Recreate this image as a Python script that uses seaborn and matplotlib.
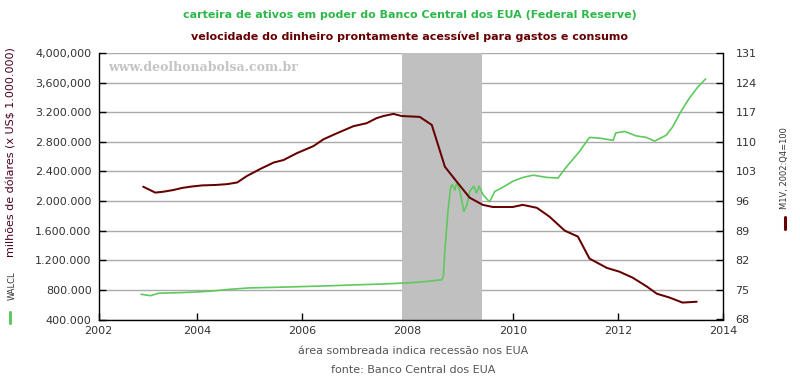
import matplotlib
matplotlib.use("Agg")
import matplotlib.pyplot as plt
from matplotlib.lines import Line2D
import seaborn as sns
import pandas as pd

# ---------------- data ----------------
walcl_years = [2002.93, 2003.11, 2003.26, 2003.68, 2004.00, 2004.30, 2004.62, 2004.97,
               2005.50, 2006.00, 2006.50, 2007.00, 2007.47, 2007.89, 2008.23, 2008.65,
               2008.68, 2008.71, 2008.77, 2008.82, 2008.85, 2008.90, 2008.94, 2008.99,
               2009.07, 2009.13, 2009.18, 2009.26, 2009.31, 2009.36, 2009.44, 2009.56,
               2009.66, 2009.82, 2010.01, 2010.20, 2010.39, 2010.64, 2010.86, 2011.02,
               2011.27, 2011.46, 2011.65, 2011.91, 2011.96, 2012.13, 2012.35, 2012.54,
               2012.70, 2012.92, 2013.04, 2013.20, 2013.36, 2013.52, 2013.67]
walcl_values = [741000, 722000, 755000, 763000, 772000, 786000, 808000, 826000,
                835000, 845000, 855000, 868000, 878000, 891000, 905000, 936000,
                980000, 1340000, 1880000, 2190000, 2220000, 2150000, 2260000, 2150000,
                1860000, 1950000, 2130000, 2200000, 2110000, 2200000, 2080000, 1990000,
                2130000, 2190000, 2270000, 2320000, 2350000, 2320000, 2310000, 2460000,
                2670000, 2860000, 2850000, 2820000, 2920000, 2940000, 2880000, 2860000,
                2810000, 2890000, 3000000, 3210000, 3390000, 3540000, 3650000]

m1v_years = [2002.97, 2003.20, 2003.35, 2003.54, 2003.71, 2003.87, 2004.09, 2004.34,
             2004.57, 2004.76, 2004.94, 2005.20, 2005.45, 2005.64, 2005.89, 2006.21,
             2006.40, 2006.65, 2006.97, 2007.22, 2007.41, 2007.54, 2007.73, 2007.89,
             2008.23, 2008.46, 2008.71, 2008.94, 2009.18, 2009.43, 2009.62, 2010.00,
             2010.19, 2010.46, 2010.70, 2010.99, 2011.24, 2011.46, 2011.79, 2012.03,
             2012.28, 2012.55, 2012.74, 2012.98, 2013.23, 2013.50]
m1v_values = [99.4, 98.0, 98.2, 98.6, 99.1, 99.4, 99.7, 99.8,
              100.0, 100.4, 101.9, 103.6, 105.1, 105.7, 107.3, 109.0,
              110.6, 112.0, 113.7, 114.4, 115.6, 116.1, 116.6, 116.1,
              115.9, 114.0, 104.1, 100.5, 96.8, 95.1, 94.6, 94.6,
              95.1, 94.4, 92.3, 89.0, 87.6, 82.4, 80.2, 79.3,
              77.9, 75.8, 74.1, 73.2, 72.0, 72.2]

recession = (2007.89, 2009.42)

left_ticks = [400000, 800000, 1200000, 1600000, 2000000, 2400000, 2800000,
              3200000, 3600000, 4000000]
left_labels = ["400.000", "800.000", "1.200.000", "1.600.000", "2.000.000",
               "2.400.000", "2.800.000", "3.200.000", "3,600,000", "4,000,000"]
right_ticks = [68, 75, 82, 89, 96, 103, 110, 117, 124, 131]
x_start = 2002.12
x_ticks = [x_start, 2004, 2006, 2008, 2010, 2012, 2014]
x_labels = ["2002", "2004", "2006", "2008", "2010", "2012", "2014"]

df_w = pd.DataFrame({"ano": walcl_years, "valor": walcl_values})
df_m = pd.DataFrame({"ano": m1v_years, "valor": m1v_values})

# ---------------- style ----------------
sns.set_style("white")
plt.rcParams["font.family"] = ["DejaVu Sans"]

GREEN = "#5ec95e"
MAROON = "#660000"
TXT = "#333333"

fig = plt.figure(figsize=(8, 3.8), dpi=100)
ax1 = fig.add_axes([98.5 / 800, 1 - 319.5 / 380, (723 - 98.5) / 800, (319.5 - 53) / 380])
ax2 = ax1.twinx()

ax1.axvspan(recession[0], recession[1], color="#c0c0c0", lw=0, zorder=1)
sns.lineplot(data=df_w, x="ano", y="valor", ax=ax1, color=GREEN, lw=1.2, zorder=3)
sns.lineplot(data=df_m, x="ano", y="valor", ax=ax2, color=MAROON, lw=1.45, zorder=3)

ax1.set_xlim(x_start, 2014)
ax1.set_ylim(400000, 4000000)
ax2.set_ylim(68, 131)

ax1.set_yticks(left_ticks)
ax1.set_yticklabels(left_labels)
ax2.set_yticks(right_ticks)
ax2.set_yticklabels([str(t) for t in right_ticks])
ax1.set_xticks(x_ticks)
ax1.set_xticklabels(x_labels)

ax1.grid(axis="y", color="#aaaaaa", lw=1.0)
ax1.grid(axis="x", visible=False)
ax1.set_axisbelow(True)
ax2.grid(False)

for ax in (ax1, ax2):
    ax.set_xlabel("")
    ax.set_ylabel("")
    ax.spines["top"].set_visible(False)
    for s in ("left", "right", "bottom"):
        ax.spines[s].set_color("black")
        ax.spines[s].set_linewidth(1.0)

ax1.spines["right"].set_visible(False)
ax2.spines["left"].set_visible(False)
ax2.spines["bottom"].set_visible(False)

ax1.tick_params(axis="y", direction="in", length=5, width=1, color="black",
                labelsize=8, labelcolor=TXT, pad=5, left=True)
ax1.tick_params(axis="x", direction="in", length=5, width=1, color="black",
                labelsize=8, labelcolor=TXT, pad=5, bottom=True)
ax2.tick_params(axis="y", direction="in", length=5, width=1, color="black",
                labelsize=8, labelcolor=TXT, pad=9, right=True)

# watermark
ax1.text(0.015, 0.947, "www.deolhonabolsa.com.br", transform=ax1.transAxes,
         fontsize=9, fontweight="bold", family="DejaVu Serif", color="#c4c4c4",
         ha="left", va="center", zorder=2)

# titles
fig.text(410 / 800, 1 - 15 / 380, "carteira de ativos em poder do Banco Central dos EUA (Federal Reserve)",
         ha="center", va="center", fontsize=8, fontweight="bold", color="#2eb84a")
fig.text(410 / 800, 1 - 37 / 380, "velocidade do dinheiro prontamente acessível para gastos e consumo",
         ha="center", va="center", fontsize=8, fontweight="bold", color=MAROON)

# bottom notes
fig.text(413 / 800, 1 - 351 / 380, "área sombreada indica recessão nos EUA",
         ha="center", va="center", fontsize=8, color="#555555")
fig.text(413 / 800, 1 - 370 / 380, "fonte: Banco Central dos EUA",
         ha="center", va="center", fontsize=8, color="#555555")

# left axis label (legend-like)
fig.text(12 / 800, 1 - 152 / 380, "milhões de dólares (x US$ 1.000.000)", rotation=90,
         ha="center", va="center", fontsize=8, color="#4a0020")
fig.text(12 / 800, 1 - 286 / 380, "WALCL", rotation=90,
         ha="center", va="center", fontsize=6, color=TXT)
fig.add_artist(Line2D([10 / 800, 10 / 800], [1 - 323 / 380, 1 - 312 / 380],
                      color=GREEN, lw=2.2, transform=fig.transFigure))

# right axis label
fig.text(785 / 800, 1 - 168 / 380, "M1V, 2002:Q4=100", rotation=90,
         ha="center", va="center", fontsize=6, color=TXT)
fig.add_artist(Line2D([785 / 800, 785 / 800], [1 - 229 / 380, 1 - 217 / 380],
                      color=MAROON, lw=2.2, transform=fig.transFigure))

fig.savefig("out.png", dpi=100)
